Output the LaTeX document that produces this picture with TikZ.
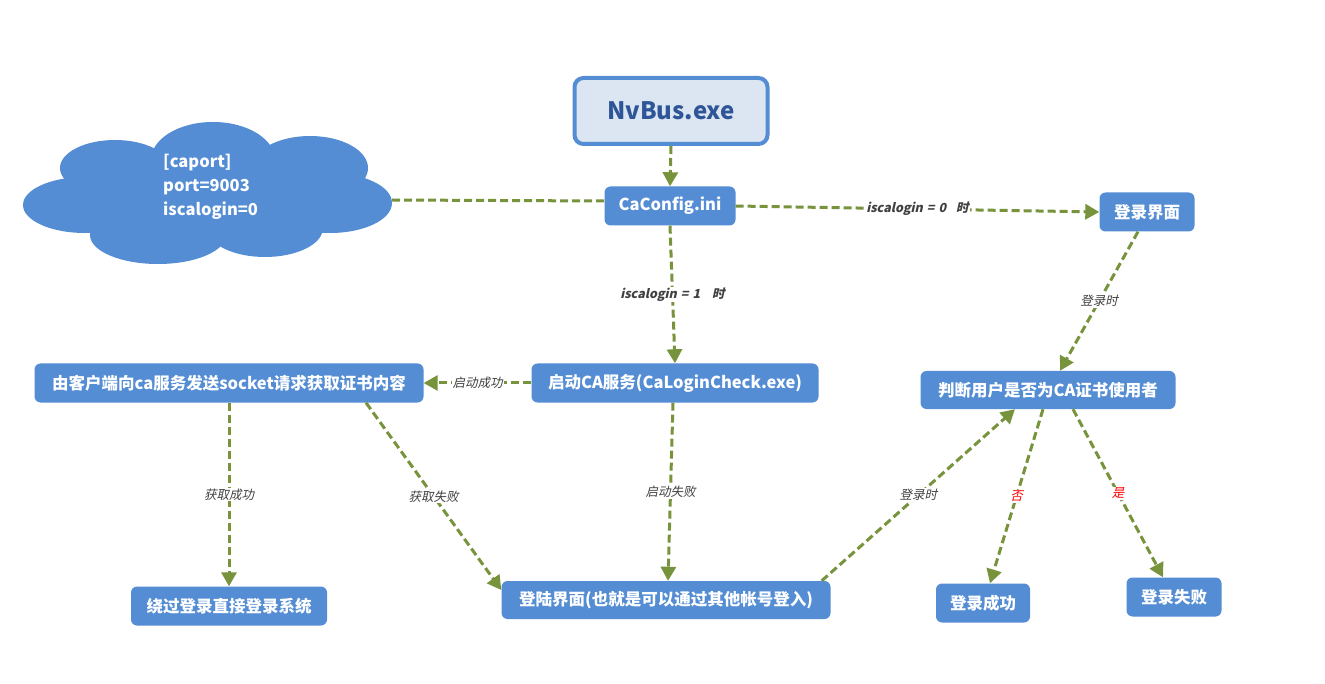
\documentclass[tikz,border=0pt]{standalone}
\usepackage{fontspec}
\setmainfont{Noto Sans CJK SC}
\newfontfamily\labfont[FakeSlant=0.22]{Noto Sans CJK SC}
\usetikzlibrary{arrows.meta}
\definecolor{boxblue}{HTML}{548DD4}
\definecolor{nvfill}{HTML}{DCE6F2}
\definecolor{nvtext}{HTML}{2E5597}
\definecolor{arrowolive}{HTML}{77933C}
\definecolor{labgray}{HTML}{404040}
\definecolor{labred}{HTML}{FF0000}
\begin{document}
\begin{tikzpicture}[x=1pt,y=-1pt,
  box/.style={fill=boxblue, rounded corners=6pt, text=white,
    font=\bfseries\fontsize{16.5}{20}\selectfont, inner sep=0pt, minimum height=39pt},
  conn/.style={draw=arrowolive, line width=3pt, dash pattern=on 8pt off 4pt},
  arr/.style={conn, -{Triangle[length=14pt,width=15pt]}},
  lab/.style={fill=white, inner sep=1pt, text=labgray,
    font=\labfont\fontsize{12.5}{14}\selectfont},
  blab/.style={lab, font=\labfont\bfseries\fontsize{12.5}{14}\selectfont},
  cloudpuff/.style={fill=boxblue, draw=none}
]
\useasboundingbox[fill=white] (0,0) rectangle (1325,684);

% cloud
\fill[cloudpuff] (210,200) ellipse [x radius=130pt, y radius=45pt];
\fill[cloudpuff] (213,160) ellipse [x radius=62pt, y radius=38pt];
\fill[cloudpuff] (115,168) ellipse [x radius=55pt, y radius=28pt];
\fill[cloudpuff] (85,205) ellipse [x radius=62pt, y radius=28pt];
\fill[cloudpuff] (158,235) ellipse [x radius=68pt, y radius=29pt];
\fill[cloudpuff] (265,228) ellipse [x radius=58pt, y radius=29pt];
\fill[cloudpuff] (330,203) ellipse [x radius=62pt, y radius=30pt];
\fill[cloudpuff] (310,168) ellipse [x radius=58pt, y radius=32pt];
\node[anchor=west, align=left, text=white, inner sep=0pt,
  font=\bfseries\fontsize{16.5}{24}\selectfont] (cloud) at (163,187)
  {[caport]\\port=9003\\iscalogin=0};
\coordinate (cloudE) at (392,200);

% nodes
\node[fill=nvfill, draw=boxblue, line width=4pt, rounded corners=9pt,
  minimum width=193pt, minimum height=66pt, inner sep=0pt, text=nvtext,
  font=\bfseries\fontsize{24}{28}\selectfont] (nv) at (671,111) {NvBus.exe};
\node[box, minimum width=131pt] (cfg) at (670,206) {CaConfig.ini};
\node[box, minimum width=95pt] (ui) at (1147,212) {登录界面};
\node[box, minimum width=287pt] (svc) at (675,383) {启动CA服务(CaLoginCheck.exe)};
\node[box, minimum width=389pt] (client) at (229,383) {由客户端向ca服务发送socket请求获取证书内容};
\node[box, minimum width=255pt, minimum height=38pt] (judge) at (1048,390) {判断用户是否为CA证书使用者};
\node[box, minimum width=196pt] (bypass) at (229,606) {绕过登录直接登录系统};
\node[box, minimum width=329pt, minimum height=38pt] (login) at (666,600) {登陆界面(也就是可以通过其他帐号登入)};
\node[box, minimum width=94pt] (ok) at (983,603) {登录成功};
\node[box, minimum width=95pt] (fail) at (1174,597) {登录失败};

% connectors
\draw[arr] (nv.south) -- (cfg.north);
\draw[conn] (cloudE) -- ([yshift=5pt]cfg.west);
\draw[arr] (cfg.east) -- node[blab] {iscalogin\hspace{4pt}=\hspace{4pt}0\hspace{10pt}时} (ui.west);
\draw[arr] (cfg.south) -- node[blab] {iscalogin\hspace{4pt}=\hspace{4pt}1\hspace{12pt}时} (svc.north);
\draw[arr] (svc.west) -- node[lab] {启动成功} (client.east);
\draw[arr] (client.south) -- node[lab] {获取成功} (bypass.north);
\draw[arr] ([xshift=137pt]client.south) -- node[lab] {获取失败} ([yshift=10pt]login.west);
\draw[arr] ([xshift=-2pt]svc.south) -- node[lab] {启动失败} ([xshift=2pt]login.north);
\draw[arr] ([xshift=-9pt]ui.south) -- node[lab] {登录时} ([xshift=12pt]judge.north);
\draw[arr] ([xshift=-9pt]login.north east) -- node[lab] {登录时} ([xshift=-33pt]judge.south);
\draw[arr] ([xshift=-5pt]judge.south) -- node[lab, text=labred] {否} ([xshift=7pt]ok.north);
\draw[arr] ([xshift=25pt]judge.south) -- node[lab, text=labred] {是} ([xshift=-11pt]fail.north);
\end{tikzpicture}
\end{document}
